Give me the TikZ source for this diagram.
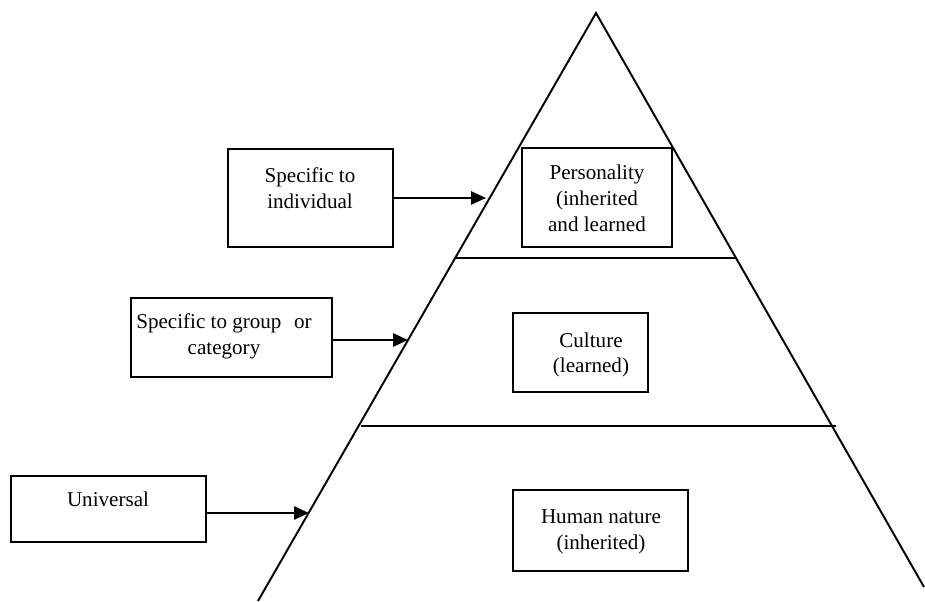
\documentclass[tikz,border=0pt]{standalone}
\usepackage{fontspec}
\setmainfont{Liberation Serif}
\usetikzlibrary{arrows.meta}
\begin{document}
\begin{tikzpicture}[x=0.02cm,y=-0.02cm,
  box/.style={draw,line width=1.1pt,inner sep=0pt},
  lbl/.style={align=center,inner sep=0pt,font=\fontsize{12pt}{14.7pt}\selectfont},
  edge/.style={line width=1.1pt},
  arr/.style={line width=1.1pt,-{Triangle[length=8.5pt,width=7.5pt]}}]
\useasboundingbox (0,0) rectangle (925,601);
% pyramid
\coordinate (apex) at (596,13);
\coordinate (bl) at (258,601);
\coordinate (br) at (924,587);
\coordinate (h1l) at (455,258);
\coordinate (h1r) at (737,258);
\coordinate (h2l) at (361,426);
\coordinate (h2r) at (836,426);
\draw[edge] (bl) -- (apex) -- (br);
\draw[edge] (h1l) -- (h1r);
\draw[edge] (h2l) -- (h2r);
% boxes
\node[box,minimum width=3.30cm,minimum height=1.96cm] (b1) at (310.5,198) {};
\node[lbl] (t1) at (310,188) {Specific to\\individual};
\node[box,minimum width=3.00cm,minimum height=1.98cm] (bp) at (597,197.5) {};
\node[lbl] (tp) at (597,198) {Personality\\(inherited\\and learned};
\node[box,minimum width=4.02cm,minimum height=1.58cm] (b2) at (231.5,337.5) {};
\node[lbl] (t2) at (224,336) {Specific to group\hspace{0.6em}or\\category};
\node[box,minimum width=2.70cm,minimum height=1.58cm] (bc) at (580.5,352.5) {};
\node[lbl] (tc) at (591,355) {Culture\\(learned)};
\node[box,minimum width=3.90cm,minimum height=1.32cm] (bu) at (108.5,509) {};
\node[lbl] (tu) at (108,499) {Universal};
\node[box,minimum width=3.50cm,minimum height=1.62cm] (bh) at (600.5,530.5) {};
\node[lbl] (th) at (601,532) {Human nature\\(inherited)};
% arrows
\coordinate (e1) at (486,198);
\coordinate (e2) at (408,340);
\coordinate (e3) at (309,513);
\draw[arr] (b1.east |- e1) -- (e1);
\draw[arr] (b2.east |- e2) -- (e2);
\draw[arr] (bu.east |- e3) -- (e3);
\end{tikzpicture}
\end{document}
